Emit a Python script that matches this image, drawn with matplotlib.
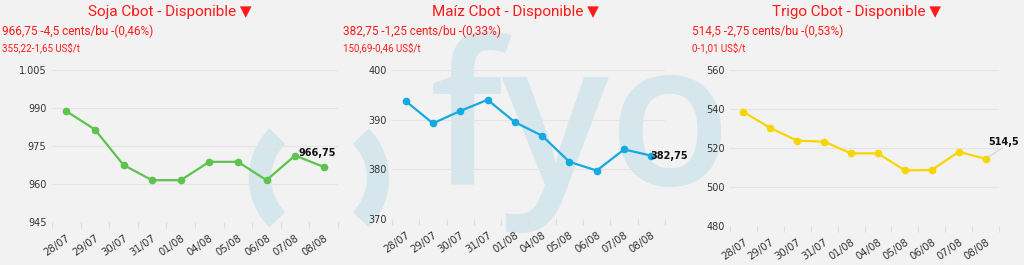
import numpy as np
import matplotlib.pyplot as plt
from matplotlib.patches import Arc
from matplotlib.ticker import FuncFormatter

# fechas y cotizaciones (cents/bu)
dates = ['28/07', '29/07', '30/07', '31/07', '01/08', '04/08', '05/08', '06/08', '07/08', '08/08']
soja = [988.75, 981.5, 967.5, 961.5, 961.5, 968.75, 968.75, 961.5, 971.25, 966.75]
maiz = [393.75, 389.25, 391.75, 394.0, 389.5, 386.75, 381.5, 379.75, 384.0, 382.75]
trigo = [538.5, 530.25, 523.75, 523.25, 517.25, 517.25, 508.5, 508.75, 518.0, 514.5]

titles = ['Soja Cbot - Disponible', 'Maíz Cbot - Disponible', 'Trigo Cbot - Disponible']
sub1 = ['966,75 -4,5 cents/bu -(0,46%)', '382,75 -1,25 cents/bu -(0,33%)', '514,5 -2,75 cents/bu -(0,53%)']
sub2 = ['355,22-1,65 US$/t', '150,69-0,46 US$/t', '0-1,01 US$/t']
last_labels = ['966,75', '382,75', '514,5']
colors = ['#5dc24e', '#14aae0', '#f7d600']
yticks = [[945, 960, 975, 990, 1005], [370, 380, 390, 400], [480, 500, 520, 540, 560]]

W, H = 1024, 265
BG = '#f2f2f2'
WM = '#d5e6ec'
RED = '#ff1a1a'

# pixel boxes of the plot areas: left, right, top, bottom
boxes = [(52, 338, 70, 222), (392, 665, 70, 219), (730, 999, 70, 226)]
title_x = [170, 515, 857]
sub_x = [2, 343, 692]
label_off = [(-18, 10), (-1, 0), (2, 12)]

fig = plt.figure(figsize=(W / 100, H / 100), dpi=100, facecolor=BG)

# watermark (logo de fondo)
bg = fig.add_axes([0, 0, 1, 1], zorder=-1)
bg.set_xlim(0, W)
bg.set_ylim(H, 0)
bg.axis('off')
bg.add_patch(Arc((319, 178), 118, 118, theta1=135, theta2=225, color=WM, lw=16))
bg.add_patch(Arc((319, 178), 118, 118, theta1=-45, theta2=45, color=WM, lw=16))
bg.text(430, 185, 'fyo', fontsize=144, color=WM, family='Open Sans', fontweight='semibold',
        ha='left', va='baseline')

fmt = FuncFormatter(lambda v, p: f'{v:,.0f}'.replace(',', '.'))
x = np.arange(len(dates))

for i, vals in enumerate([soja, maiz, trigo]):
    l, r, t, b = boxes[i]
    ax = fig.add_axes([l / W, 1 - b / H, (r - l) / W, (b - t) / H])
    ax.set_facecolor('none')
    ax.plot(x, vals, color=colors[i], lw=1.6, marker='o', ms=4.5, zorder=3, clip_on=False)
    ax.set_xlim(-0.5, len(dates) - 0.5)
    ax.set_ylim(yticks[i][0], yticks[i][-1])
    ax.set_yticks(yticks[i])
    ax.yaxis.set_major_formatter(fmt)
    ax.grid(axis='y', color='#e4e4e4', lw=0.8)
    ax.set_axisbelow(True)
    for s in ax.spines.values():
        s.set_visible(False)
    ax.tick_params(axis='y', length=0, labelsize=7, labelcolor='#333333', pad=4)
    ax.set_xticks(x)
    ax.set_xticklabels(dates, rotation=35, ha='right', rotation_mode='anchor',
                       fontsize=7.3, color='#333333')
    ax.set_xticks(np.arange(-0.5, len(dates)), minor=True)
    ax.tick_params(axis='x', which='major', length=0, pad=8)
    ax.tick_params(axis='x', which='minor', length=4, color='#dddddd', width=0.8)

    dx, dy = label_off[i]
    ax.annotate(last_labels[i], (x[-1], vals[-1]), xytext=(dx, dy), textcoords='offset points',
                fontsize=7, fontweight='bold', color='#111111', ha='left', va='center',
                annotation_clip=False, zorder=4)
    if i == 2:
        ax.annotate('', (x[-1], vals[-1]), xytext=(14, 9), textcoords='offset points',
                    arrowprops=dict(arrowstyle='-', color='#cccccc', lw=0.6), annotation_clip=False)

    fig.text(title_x[i] / W, 1 - 12 / H, titles[i] + ' ▼', ha='center', va='center',
             fontsize=11, color=RED, family=['Roboto', 'DejaVu Sans'])
    fig.text(sub_x[i] / W, 1 - 31 / H, sub1[i], ha='left', va='center',
             fontsize=8.5, color=RED, family=['Roboto', 'DejaVu Sans'])
    fig.text(sub_x[i] / W, 1 - 48 / H, sub2[i], ha='left', va='center',
             fontsize=7, color=RED, family=['Roboto', 'DejaVu Sans'])

fig.savefig('out.png', dpi=100, facecolor=BG)
